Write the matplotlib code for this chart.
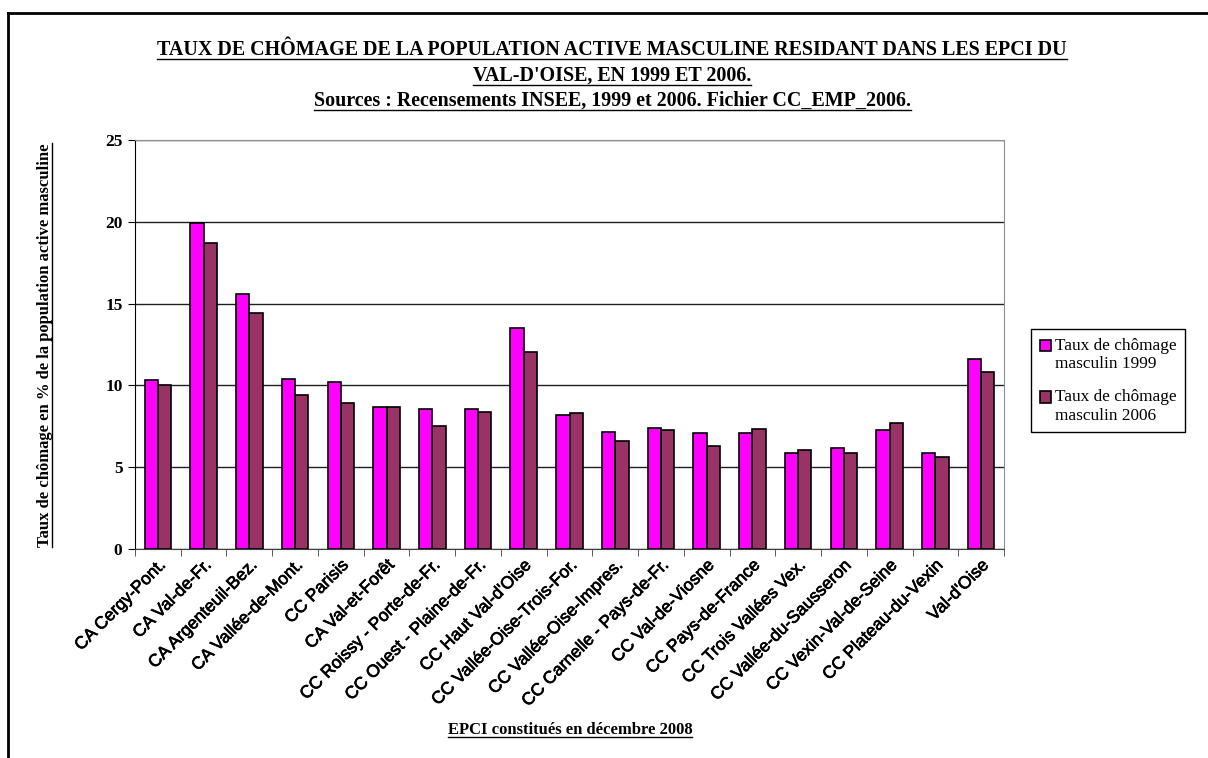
import numpy as np
import matplotlib.pyplot as plt
from matplotlib.lines import Line2D
from matplotlib.patches import Rectangle
from matplotlib.legend_handler import HandlerPatch
import matplotlib.patheffects as pe

# EPCI du Val-d'Oise, taux de chomage masculin 1999 / 2006
categories = ["CA Cergy-Pont.", "CA Val-de-Fr.", "CA Argenteuil-Bez.", "CA Vallée-de-Mont.",
              "CC Parisis", "CA Val-et-Forêt", "CC Roissy - Porte-de-Fr.", "CC Ouest - Plaine-de-Fr.",
              "CC Haut Val-d'Oise", "CC Vallée-Oise-Trois-For.", "CC Vallée-Oise-Impres.",
              "CC Carnelle - Pays-de-Fr.", "CC Val-de-Viosne", "CC Pays-de-France",
              "CC Trois Vallées Vex.", "CC Vallée-du-Sausseron", "CC Vexin-Val-de-Seine",
              "CC Plateau-du-Vexin", "Val-d'Oise"]
taux_1999 = [10.3, 19.9, 15.6, 10.4, 10.2, 8.7, 8.55, 8.55, 13.5, 8.2,
             7.15, 7.4, 7.1, 7.1, 5.85, 6.15, 7.25, 5.85, 11.6]
taux_2006 = [10.0, 18.7, 14.4, 9.4, 8.9, 8.65, 7.5, 8.35, 12.05, 8.3,
             6.6, 7.25, 6.3, 7.35, 6.05, 5.85, 7.7, 5.6, 10.8]
labels = ["Taux de chômage\nmasculin 1999", "Taux de chômage\nmasculin 2006"]
yticks = [0, 5, 10, 15, 20, 25]

W, H = 1208, 758
fig = plt.figure(figsize=(W/100, H/100), dpi=100)
ax = fig.add_axes([135/W, 1-549/H, (1004-135)/W, (549-140)/H])

x = np.arange(len(categories))
bw = 0.29
b1 = ax.bar(x - bw/2, taux_1999, bw, color='#FF00FF', edgecolor='black', lw=1.2, label=labels[0], zorder=3)
b2 = ax.bar(x + bw/2, taux_2006, bw, color='#993366', edgecolor='black', lw=1.2, label=labels[1], zorder=3)

ax.set_xlim(-0.5, len(categories)-0.5)
ax.set_ylim(0, 25)
ax.set_yticks(yticks)
ax.set_yticklabels([str(v) for v in yticks], fontfamily='Liberation Serif', fontweight='bold', fontsize=12.5)
ax.yaxis.grid(True, color='#202020', lw=1, zorder=0)
ax.set_xticks(x)
ax.set_xticklabels(categories, rotation=45, ha='right', va='top', rotation_mode='anchor',
                   fontfamily='Liberation Sans', fontsize=12.5,
                   path_effects=[pe.withStroke(linewidth=0.5, foreground='black')])
ax.tick_params(axis='x', which='major', length=0, pad=6)
ax.set_xticks(np.arange(-0.5, len(categories), 1), minor=True)
ax.tick_params(axis='x', which='minor', length=5, color='#404040', direction='out')
ax.tick_params(axis='y', length=5, color='black', direction='out', pad=4)
for s in ['top', 'right']:
    ax.spines[s].set_color('#909090')
ax.spines['left'].set_color('black')
ax.spines['bottom'].set_color('#404040')

# carre de legende aligne sur la premiere ligne du libelle
def carre(legend, orig_handle, xdescent, ydescent, width, height, fontsize):
    return Rectangle((-xdescent, -ydescent + 0.55*fontsize), width, height)

leg = fig.legend(handles=[b1[0], b2[0]], labels=labels, loc='upper left', bbox_to_anchor=(1031/W, 1-329/H),
                 borderaxespad=0, fancybox=False, edgecolor='black', framealpha=1,
                 prop={'family': 'Liberation Serif', 'size': 12.4}, handlelength=0.65,
                 handleheight=0.65, handletextpad=0.25, labelspacing=1.0, borderpad=0.5,
                 handler_map={Rectangle: HandlerPatch(patch_func=carre)})
leg.get_frame().set_linewidth(1)

serif_b = dict(family='Liberation Serif', weight='bold', color='black')
texts = []
texts.append(fig.text(612/W, 1-50/H, "TAUX DE CHÔMAGE DE LA POPULATION ACTIVE MASCULINE RESIDANT DANS LES EPCI DU",
                      ha='center', va='center', size=14.4, **serif_b))
texts.append(fig.text(612/W, 1-76/H, "VAL-D'OISE, EN 1999 ET 2006.", ha='center', va='center', size=14.4, **serif_b))
texts.append(fig.text(612/W, 1-101/H, "Sources : Recensements INSEE, 1999 et 2006. Fichier CC_EMP_2006.",
                      ha='center', va='center', size=14.4, **serif_b))
texts.append(fig.text(570/W, 1-730/H, "EPCI constitués en décembre 2008", ha='center', va='center', size=12, **serif_b))
ylab = fig.text(45/W, 1-345/H, "Taux de chômage en % de la population active masculine", ha='center', va='center',
                rotation=90, size=12, **serif_b)

# soulignements
fig.canvas.draw()
r = fig.canvas.get_renderer()
for t in texts:
    bb = t.get_window_extent(r)
    yy = bb.y0 + 1
    fig.add_artist(Line2D([bb.x0/W, bb.x1/W], [yy/H, yy/H], color='black', lw=1))
bb = ylab.get_window_extent(r)
xx = bb.x1 - 1
fig.add_artist(Line2D([xx/W, xx/W], [bb.y0/H, bb.y1/H], color='black', lw=1))

# cadre
fig.add_artist(Line2D([8/W, 8/W], [0, 1-13/H], color='black', lw=2))
fig.add_artist(Line2D([8/W, 1], [1-13/H, 1-13/H], color='black', lw=2))

fig.savefig('out.png', dpi=100)
